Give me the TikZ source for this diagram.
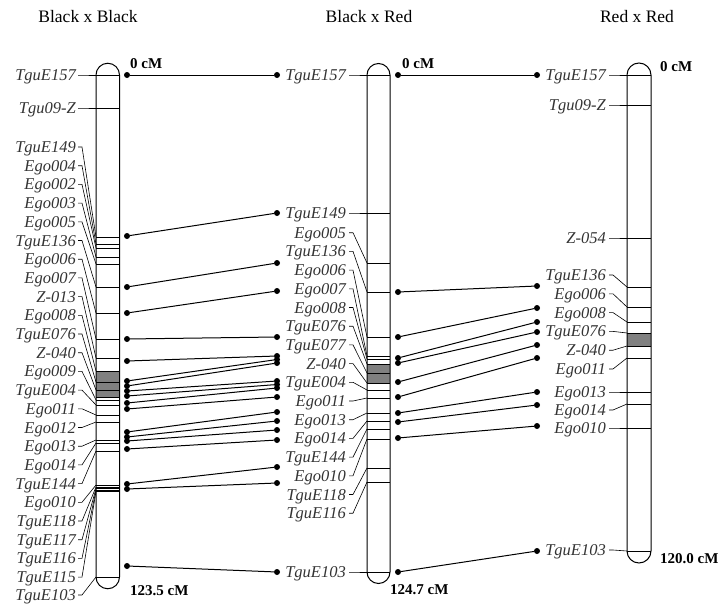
\documentclass[tikz,border=0pt]{standalone}
\usepackage{fontspec}
\setmainfont{Liberation Serif}
\begin{document}
\begin{tikzpicture}[x=1pt,y=-1pt,
  lab/.style={font=\fontsize{16.5}{18}\selectfont\itshape, inner sep=0pt, anchor=base east, text=black!80},
  ttl/.style={font=\fontsize{17.5}{20}\selectfont, inner sep=0pt, anchor=base},
  cmlab/.style={font=\fontsize{15}{16}\selectfont\bfseries, inner sep=0pt, anchor=base west},
  dot/.style={circle, fill=black, inner sep=0pt, minimum size=6pt},
  chrom/.style={draw=black, line width=1pt},
  band/.style={line width=0.9pt},
  link/.style={line width=1pt},
  lead/.style={line width=0.6pt},
  grayband/.style={fill=black!50}]
\useasboundingbox (0,0) rectangle (724,605);

% titles
\node[ttl] (t1) at (88,23) {Black x Black};
\node[ttl] (t2) at (369,23) {Black x Red};
\node[ttl] (t3) at (637,23) {Red x Red};

% ---------- left chromosome ----------
\fill[grayband] (96,371) rectangle (119.5,397);
\foreach \y in {75,108,237,244,248,257,264,287,313,339,358,371,382,390,397,400,405,415,422,440,443,451,485,487,488.5,490,491.5,577}
  \draw[band] (96,\y) -- (119.5,\y);
\draw[chrom] (96,75) arc[start angle=180,end angle=360,radius=11.75] -- (119.5,577)
  arc[start angle=0,end angle=180,radius=11.75] -- cycle;
\foreach \t/\ly/\by [count=\i] in {TguE157/75/75, Tgu09-Z/108/108, TguE149/147/237, Ego004/165.7/244,
  Ego002/184.4/248, Ego003/203.1/257, Ego005/221.8/264, TguE136/240.5/287, Ego006/259.2/313,
  Ego007/277.9/339, Z-013/296.6/358, Ego008/315.3/371, TguE076/334/382, Z-040/352.7/390,
  Ego009/371.4/400, TguE004/390.1/405, Ego011/408.8/415, Ego012/427.5/422, Ego013/446.2/440,
  Ego014/464.9/443, TguE144/483.6/451, Ego010/502.3/485, TguE118/521/487, TguE117/539.7/488.5,
  TguE116/558.4/490, TguE115/577.1/491.5, TguE103/595/577}{
  \node[lab] (L\i) at (76,\ly+5.5) {\t};
  \coordinate (LS\i) at (78,\ly);
  \coordinate (LB\i) at (96,\by);
  \draw[lead] (LS\i) -- ++(4,0) -- (LB\i);
}
\node[cmlab] (c1) at (130,68) {0 cM};
\node[cmlab] (c2) at (130,595) {123.5 cM};

% ---------- middle chromosome ----------
\fill[grayband] (367,364) rectangle (390,383);
\foreach \y in {75,213,263,292,337,356,359,364,373,383,390,398,413,421,429,439,468,482,572}
  \draw[band] (367,\y) -- (390,\y);
\draw[chrom] (367,75) arc[start angle=180,end angle=360,radius=11.5] -- (390,572)
  arc[start angle=0,end angle=180,radius=11.5] -- cycle;
\foreach \t/\ly/\by [count=\i] in {TguE157/75/75, TguE149/213/213, Ego005/232.7/263, TguE136/251.4/292,
  Ego006/270.1/337, Ego007/288.8/356, Ego008/307.5/359, TguE076/326.2/364, TguE077/344.9/373,
  Z-040/363.6/383, TguE004/382.3/390, Ego011/401/398, Ego013/419.7/413, Ego014/438.4/421,
  TguE144/457.1/429, Ego010/475.8/439, TguE118/494.5/468, TguE116/513.2/482, TguE103/572/572}{
  \node[lab] (M\i) at (346,\ly+5.5) {\t};
  \coordinate (MS\i) at (349,\ly);
  \coordinate (MB\i) at (367,\by);
  \draw[lead] (MS\i) -- ++(4,0) -- (MB\i);
}
\node[cmlab] (c3) at (402,68) {0 cM};
\node[cmlab] (c4) at (390,594) {124.7 cM};

% ---------- right chromosome ----------
\fill[grayband] (627,333) rectangle (651,346);
\foreach \y in {75,105,238,287,307,322,333,346,358,392,404,428,551}
  \draw[band] (627,\y) -- (651,\y);
\draw[chrom] (627,75) arc[start angle=180,end angle=360,radius=12] -- (651,551)
  arc[start angle=0,end angle=180,radius=12] -- cycle;
\foreach \t/\ly/\by [count=\i] in {TguE157/75/75, Tgu09-Z/105/105, Z-054/238/238, TguE136/275/287,
  Ego006/293.8/307, Ego008/312.6/322, TguE076/331.4/333, Z-040/350.2/346, Ego011/369/358,
  Ego013/392/392, Ego014/410/404, Ego010/428/428, TguE103/550/551}{
  \node[lab] (R\i) at (606,\ly+5.5) {\t};
  \coordinate (RS\i) at (609,\ly);
  \coordinate (RB\i) at (627,\by);
  \draw[lead] (RS\i) -- ++(4,0) -- (RB\i);
}
\node[cmlab] (c5) at (660,71) {0 cM};
\node[cmlab] (c6) at (660,563) {120.0 cM};

% ---------- links left -> middle ----------
\foreach \a/\b [count=\i] in {75/75, 236/213, 287/263, 313/291, 339/337, 361/356, 381/359.5, 386/363,
  391/381, 396/384.5, 403/388, 409/397, 432/412, 437/421, 441/430, 449/440, 484/467, 489/483, 566/572}{
  \node[dot] (DA\i) at (127,\a) {};
  \node[dot] (DB\i) at (277,\b) {};
  \draw[link] (DA\i) -- (DB\i);
}
% ---------- links middle -> right ----------
\foreach \a/\b [count=\i] in {75/75, 292/286, 337/308, 358/322, 363/332, 382/345, 397/358,
  413/392, 422/405, 438/426, 572/551}{
  \node[dot] (DC\i) at (398,\a) {};
  \node[dot] (DD\i) at (537,\b) {};
  \draw[link] (DC\i) -- (DD\i);
}
\end{tikzpicture}
\end{document}
